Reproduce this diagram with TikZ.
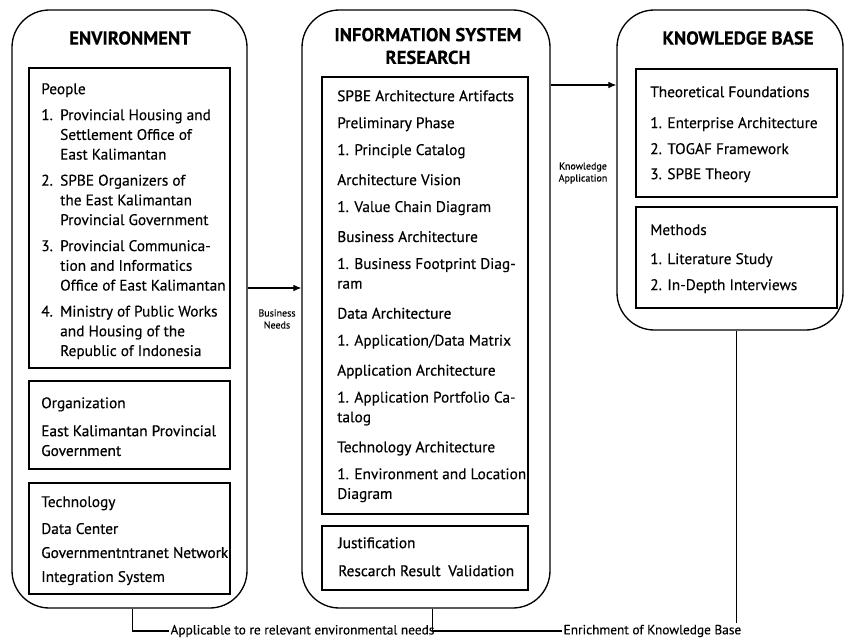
\documentclass[tikz,border=0pt]{standalone}
\usepackage{fontspec}
\setmainfont[FakeBold=0.25]{PT Sans}
\newfontfamily\mediumfont[FakeBold=0.6]{PT Sans}
\usetikzlibrary{fit,arrows.meta}

\newcommand{\listnr}[1]{\makebox[14.2pt][l]{#1}}
\newcommand{\listind}{\hspace*{14.2pt}}
\newcommand{\hd}[1]{{\mediumfont #1}}

\tikzset{
  outerbox/.style={draw, line width=1pt, rounded corners=28pt, inner sep=0pt},
  innerbox/.style={draw, line width=0.8pt, inner sep=0pt},
  boxtitle/.style={font=\bfseries\fontsize{14}{17}\selectfont, align=center},
  boxtext/.style={font=\fontsize{11.5}{14.8}\selectfont, align=left, inner sep=0pt, anchor=north west},
  flowlabel/.style={font=\fontsize{7.5}{9}\selectfont, align=center},
  footlabel/.style={font=\fontsize{10}{12}\selectfont, inner sep=1pt, anchor=west},
  flow/.style={line width=0.8pt, -{Latex[length=6pt,width=5pt]}},
  link/.style={line width=0.8pt},
}

\begin{document}
\begin{tikzpicture}[x=0.75pt, y=-0.75pt]
  \useasboundingbox (0,0) rectangle (845,639);
  % Environment
  \node[outerbox, fit={(12,10) (247,608)}] (env) {};
  \node[boxtitle] (envtitle) at (130,38) {ENVIRONMENT};
  \node[innerbox, fit={(29,68) (230,368)}] (people) {};
  \node[boxtext] (peopletext) at (41,83) {People\\[4.7pt]
    \listnr{1.}Provincial Housing and\\ \listind Settlement Office of\\ \listind East Kalimantan\\[4.7pt]
    \listnr{2.}SPBE Organizers of\\ \listind the East Kalimantan\\ \listind Provincial Government\\[4.7pt]
    \listnr{3.}Provincial Communica-\\ \listind tion and Informatics\\ \listind Office of East Kalimantan\\[4.7pt]
    \listnr{4.}Ministry of Public Works\\ \listind and Housing of the\\ \listind Republic of Indonesia};
  \node[innerbox, fit={(29,381) (230,469)}] (org) {};
  \node[boxtext] (orgtext) at (41,397) {Organization\\[6.2pt]
    \hd{East Kalimantan Provincial}\\ \hd{Government}};
  \node[innerbox, fit={(29,483) (230,594)}] (tech) {};
  \node[boxtext] (techtext) at (41,496) {Technology\\[5.4pt]
    Data Center\\[3.2pt] \hd{Governmentntranet Network}\\[3.2pt] Integration System};

  % Information System Research
  \node[outerbox, fit={(302,10) (550,608)}] (isr) {};
  \node[boxtitle] (isrtitle) at (428,46) {INFORMATION SYSTEM\\RESEARCH};
  \node[innerbox, fit={(322,77) (528,514)}] (artifacts) {};
  \node[boxtext] (artifactstext) at (337,90) {\hd{SPBE Architecture Artifacts}\\[5.4pt]
    \hd{Preliminary Phase}\\[5.4pt] 1. Principle Catalog\\[7.7pt]
    \hd{Architecture Vision}\\[5.4pt] 1. Value Chain Diagram\\[7.7pt]
    \hd{Business Architecture}\\[5.4pt] 1. Business Footprint Diag-\\ ram\\[7.7pt]
    \hd{Data Architecture}\\[5.4pt] 1. Application/Data Matrix\\[7.7pt]
    \hd{Application Architecture}\\[5.4pt] 1. Application Portfolio Ca-\\ talog\\[7.7pt]
    \hd{Technology Architecture}\\[5.4pt] 1. Environment and Location\\ Diagram};
  \node[innerbox, fit={(322,526) (528,590)}] (justif) {};
  \node[boxtext] (justiftext) at (338,537) {\hd{Justification}\\[6.2pt]
    \hd{Rescarch Result\enspace Validation}};

  % Knowledge Base
  \node[outerbox, fit={(617,10) (843,330)}] (kb) {};
  \node[boxtitle] (kbtitle) at (738,38) {KNOWLEDGE BASE};
  \node[innerbox, fit={(636,69) (837,197)}] (theory) {};
  \node[boxtext] (theorytext) at (650,86) {\hd{Theoretical Foundations}\\[8.4pt]
    1. Enterprise Architecture\\[4.7pt] 2. TOGAF Framework\\[4pt] 3. SPBE Theory};
  \node[innerbox, fit={(636,207) (837,308)}] (methods) {};
  \node[boxtext] (methodstext) at (650,224) {Methods\\[7pt]
    1. Literature Study\\[4.7pt] 2. In-Depth Interviews};

  % Pfeile zwischen den Bloecken
  \draw[flow] ([yshift=15.75pt]env.east) -- ([yshift=15.75pt]isr.west);
  \node[flowlabel] (bneeds) at (277,319) {Business\\Needs};
  \draw[flow] (isr.east |- 0,85) -- (kb.west |- 0,85);
  \node[flowlabel] (kapp) at (583,173) {Knowledge\\Application};

  % Rueckkopplung unten
  \node[footlabel] (apply) at (169,631) {Applicable to re relevant environmental needs};
  \node[footlabel] (enrich) at (562,631) {Enrichment of Knowledge Base};
  \draw[link] ([xshift=2pt]env.south) |- (apply.west);
  \draw[link] ([xshift=5.2pt]isr.south) |- (enrich.west);
  \draw[link] ([xshift=5pt]kb.south) -- ([xshift=5pt]kb.south |- enrich.north);
\end{tikzpicture}
\end{document}
